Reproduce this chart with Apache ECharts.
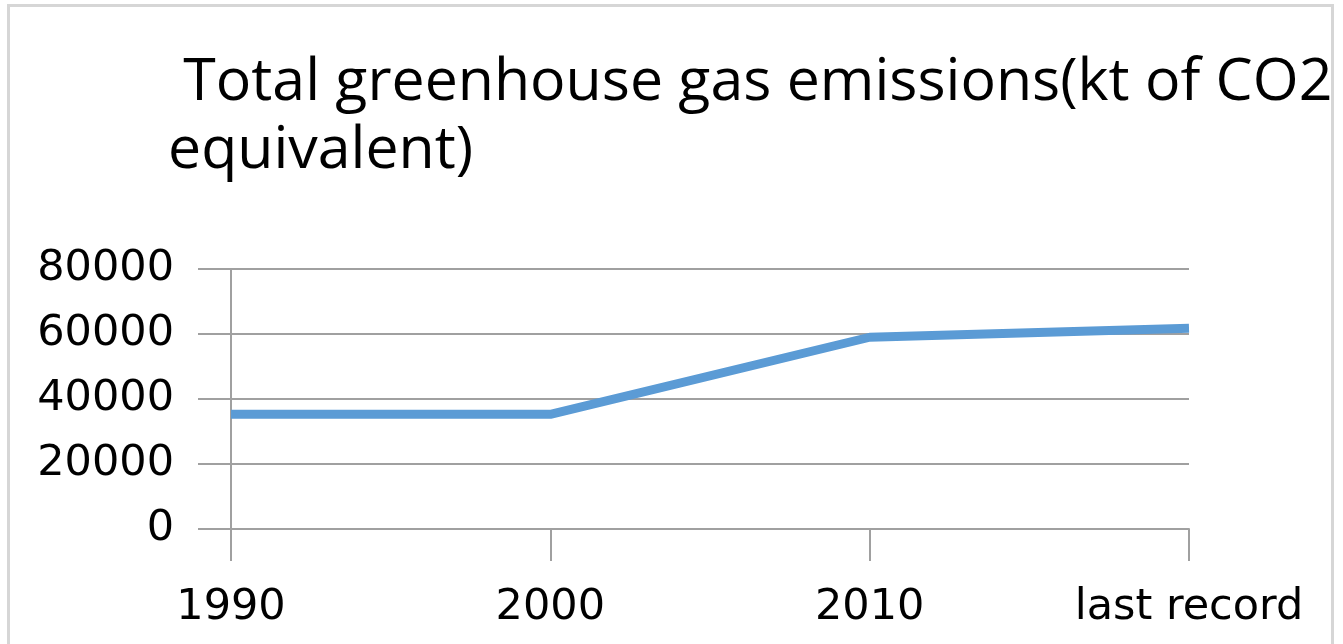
<!DOCTYPE html>
<html>
<head>
<meta charset="utf-8">
<style>
  html, body { margin: 0; padding: 0; background: #ffffff; }
  #chart { width: 1343px; height: 644px; }
</style>
<script src="https://cdn.jsdelivr.net/npm/echarts@6/dist/echarts.min.js"></script>
</head>
<body>
<div id="chart"></div>
<script>
// Emissions by reporting period
const categories = ['1990', '2000', '2010', 'last record'];
const emissions = [35300, 35300, 59000, 61800];
const yTicks = [0, 20000, 40000, 60000, 80000];

const chart = echarts.init(document.getElementById('chart'), null, { renderer: 'canvas' });

const gridColor = '#a0a0a0';
const titleFont = '"Open Sans"';
const labelFont = '"DejaVu Sans"';

chart.setOption({
  backgroundColor: '#ffffff',
  animation: false,
  graphic: [{
    type: 'rect',
    shape: { x: 8.5, y: 5.5, width: 1324, height: 650 },
    style: { fill: 'none', stroke: '#d6d6d6', lineWidth: 3 },
    silent: true,
    z: -1
  }],
  title: {
    text: ' Total greenhouse gas emissions(kt of CO2\nequivalent)',
    left: 163,
    top: 44,
    textStyle: {
      fontFamily: titleFont,
      fontSize: 59,
      fontWeight: 'normal',
      color: '#000000',
      lineHeight: 68
    }
  },
  grid: { left: 231, right: 154, top: 269, bottom: 115, containLabel: false },
  xAxis: {
    type: 'category',
    data: categories,
    boundaryGap: false,
    axisLine: { show: true, lineStyle: { color: gridColor, width: 2 } },
    axisTick: { show: true, length: 32, alignWithLabel: true, lineStyle: { color: gridColor, width: 2 } },
    axisLabel: {
      margin: 57,
      fontFamily: labelFont,
      fontSize: 43,
      color: '#000000',
      interval: 0
    },
    splitLine: { show: false }
  },
  yAxis: {
    type: 'value',
    min: yTicks[0],
    max: yTicks[yTicks.length - 1],
    interval: yTicks[1] - yTicks[0],
    axisLine: { show: true, lineStyle: { color: gridColor, width: 2 } },
    axisTick: { show: true, length: 33, lineStyle: { color: gridColor, width: 2 } },
    axisLabel: {
      margin: 57,
      fontFamily: labelFont,
      fontSize: 43,
      color: '#000000',
      formatter: function (v) { return String(v); }
    },
    splitLine: { show: true, lineStyle: { color: gridColor, width: 2 } }
  },
  series: [{
    type: 'line',
    data: emissions,
    showSymbol: false,
    symbol: 'none',
    lineStyle: { color: '#5b9bd5', width: 9, cap: 'butt', join: 'round' },
    z: 3
  }]
});
</script>
</body>
</html>
